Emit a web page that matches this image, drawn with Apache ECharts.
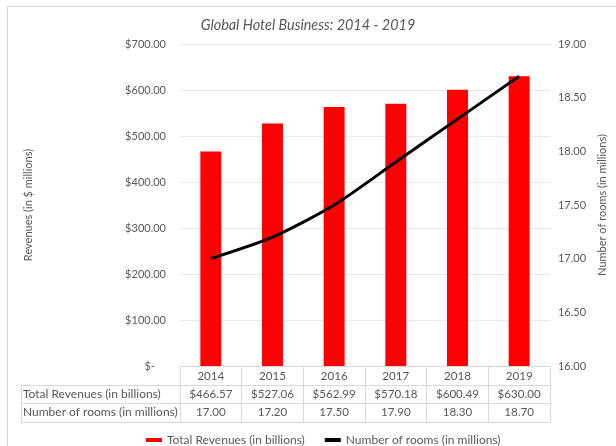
<!DOCTYPE html>
<html><head><meta charset="utf-8">
<script src="https://cdn.jsdelivr.net/npm/echarts@6/dist/echarts.min.js"></script>
<style>html,body{margin:0;padding:0;background:#fff}#c{width:616px;height:446px}</style>
</head><body><div id="c"></div>
<script>
const years = ['2014','2015','2016','2017','2018','2019'];
const revenues = [466.57, 527.06, 562.99, 570.18, 600.49, 630.00];
const rooms = [17.00, 17.20, 17.50, 17.90, 18.30, 18.70];
const revName = 'Total Revenues (in billions)';
const roomName = 'Number of rooms (in millions)';
const titleText = 'Global Hotel Business: 2014 - 2019';

const FONT = 'Lato';
const GREY = '#595959';
const LINE = '#d9d9d9';
const FS = 12;
const FV = 11.6;
const chart = echarts.init(document.getElementById('c'));

const revLabels = revenues.map(v => '$' + v.toFixed(2));
const roomLabels = rooms.map(v => v.toFixed(2));

function tableAxis(data, offset, len) {
  return {
    type: 'category', data: data, position: 'bottom', offset: offset,
    axisLine: {show: true, lineStyle: {color: LINE, width: 1}},
    axisTick: {show: true, length: len, interval: 0, lineStyle: {color: LINE}},
    axisLabel: {color: GREY, fontFamily: FONT, fontSize: FV, margin: 3, interval: 0},
    splitLine: {show: false}
  };
}

chart.setOption({
  animation: false,
  backgroundColor: '#fff',
  title: {
    text: titleText, left: 'center', top: 13,
    textStyle: {fontFamily: FONT, fontSize: 14.4, fontStyle: 'italic', fontWeight: 'normal', color: GREY}
  },
  grid: {left: 180, right: 61, top: 44, bottom: 80},
  legend: {
    left: 141, top: 429, itemGap: 20, itemWidth: 16, itemHeight: 4,
    textStyle: {fontFamily: FONT, fontSize: FS, color: GREY},
    data: [
      {name: revName, icon: 'rect', itemStyle: {color: '#ff0000'}},
      {name: roomName, icon: 'rect', itemStyle: {color: '#000000'}}
    ]
  },
  xAxis: [
    {
      type: 'category', data: years, position: 'bottom',
      axisLine: {show: true, lineStyle: {color: LINE}},
      axisTick: {show: true, length: 19, interval: 0, lineStyle: {color: LINE}},
      axisLabel: {color: GREY, fontFamily: FONT, fontSize: FV, margin: 4, interval: 0}
    },
    tableAxis(revLabels, 19, 18),
    tableAxis(roomLabels, 37, 19),
    Object.assign(tableAxis(years, 56, 0), {axisLabel: {show: false}, axisTick: {show: false}})
  ],
  yAxis: [
    {
      type: 'value', min: 0, max: 700, interval: 100,
      name: 'Revenues (in $ millions)', nameLocation: 'middle', nameGap: 146, nameRotate: 90,
      nameTextStyle: {fontFamily: FONT, fontSize: 11, color: GREY},
      axisLine: {show: false}, axisTick: {show: false},
      axisLabel: {
        color: GREY, fontFamily: FONT, fontSize: 11, margin: 14,
        formatter: v => v === 0 ? '{z|$-}' : '$' + v.toFixed(2),
        rich: {z: {fontFamily: FONT, fontSize: 11, color: GREY, padding: [0, 11, 0, 0]}}
      },
      splitLine: {show: true, lineStyle: {color: '#e9e9e9'}}
    },
    {
      type: 'value', min: 16, max: 19, interval: 0.5, position: 'right',
      name: roomName, nameLocation: 'middle', nameGap: 44, nameRotate: 90,
      nameTextStyle: {fontFamily: FONT, fontSize: 11, color: GREY},
      axisLine: {show: false}, axisTick: {show: false},
      axisLabel: {color: GREY, fontFamily: FONT, fontSize: 11, margin: 8, formatter: v => v.toFixed(2)},
      splitLine: {show: false}
    }
  ],
  series: [
    {name: revName, type: 'bar', data: revenues, xAxisIndex: 0, yAxisIndex: 0,
     barWidth: '34%', itemStyle: {color: '#ff0000'}},
    {name: roomName, type: 'line', data: rooms, xAxisIndex: 0, yAxisIndex: 1,
     smooth: 0.25, showSymbol: false, symbol: 'none',
     lineStyle: {color: '#000', width: 3}, itemStyle: {color: '#000'}}
  ],
  graphic: [
    {type: 'rect', shape: {x: 7.5, y: 6.5, width: 640, height: 460}, style: {fill: null, stroke: '#d4d4d4', lineWidth: 1}, silent: true},
    {type: 'line', shape: {x1: 21, y1: 385.5, x2: 180, y2: 385.5}, style: {stroke: LINE}},
    {type: 'line', shape: {x1: 21, y1: 403.5, x2: 180, y2: 403.5}, style: {stroke: LINE}},
    {type: 'line', shape: {x1: 21, y1: 422.5, x2: 180, y2: 422.5}, style: {stroke: LINE}},
    {type: 'line', shape: {x1: 21.5, y1: 385, x2: 21.5, y2: 422}, style: {stroke: LINE}},
    {type: 'text', x: 23, y: 394.5, style: {text: revName, fontFamily: FONT, fontSize: FS, fill: GREY, verticalAlign: 'middle'}},
    {type: 'text', x: 23, y: 412.5, style: {text: roomName, fontFamily: FONT, fontSize: FS, fill: GREY, verticalAlign: 'middle'}}
  ]
});
</script></body></html>
